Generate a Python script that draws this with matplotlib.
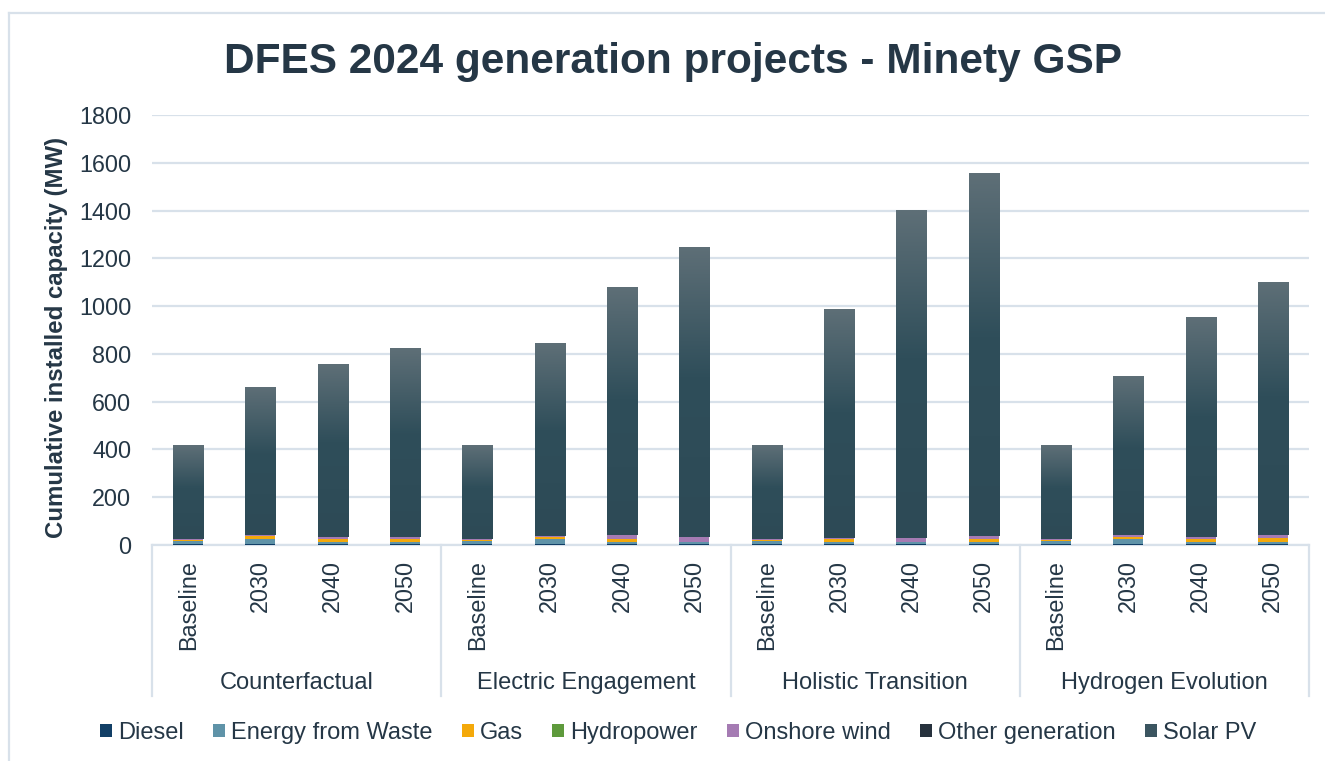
import numpy as np
import matplotlib
matplotlib.use("Agg")
import matplotlib.pyplot as plt
from matplotlib.colors import LinearSegmentedColormap
from matplotlib.patches import Patch
from matplotlib.lines import Line2D

plt.rcParams['font.family'] = ['Liberation Sans', 'DejaVu Sans']

# ---------------- data ----------------
scenarios = ["Counterfactual", "Electric Engagement", "Holistic Transition", "Hydrogen Evolution"]
years = ["Baseline", "2030", "2040", "2050"]

diesel = [3, 3, 3, 3,   3, 3, 3, 3,   3, 3, 3, 3,   3, 3, 3, 3]
energy_from_waste = [12, 22, 9, 9,   12, 22, 9, 9,   12, 10, 10, 10,   12, 22, 9, 9]
gas = [8, 11, 13, 13,   8, 8, 14, 0,   8, 14, 0, 13,   8, 8, 14, 18]
hydropower = [0, 0, 0, 0,   0, 0, 0, 0,   0, 0, 0, 0,   0, 0, 0, 0]
onshore_wind = [4, 4, 8, 8,   4, 6, 16, 21,   4, 3, 17, 12,   4, 7, 8, 13]
other_generation = [0, 0, 0, 0,   0, 0, 0, 0,   0, 0, 0, 0,   0, 0, 0, 0]
solar_pv = [391, 620, 724, 790,   391, 806, 1036, 1214,   391, 960, 1372, 1519,   391, 666, 919, 1060]

series_names = ["Diesel", "Energy from Waste", "Gas", "Hydropower",
                "Onshore wind", "Other generation", "Solar PV"]
series_values = [diesel, energy_from_waste, gas, hydropower,
                 onshore_wind, other_generation, solar_pv]
series_colors = ["#123f66", "#5f93a8", "#f4a90a", "#5e9a3c",
                 "#a57bb3", "#27323d", "#3b5560"]

yticks = [0, 200, 400, 600, 800, 1000, 1200, 1400, 1600, 1800]

# ---------------- figure ----------------
W, H = 1325, 761
fig = plt.figure(figsize=(W / 100, H / 100), dpi=100)
ax_left, ax_right, ax_top, ax_bottom = 152, 1309, 115, 545
ax = fig.add_axes([ax_left / W, 1 - ax_bottom / H,
                   (ax_right - ax_left) / W, (ax_bottom - ax_top) / H])

text_color = "#253746"
grid_color = "#d8e1ea"

n = len(scenarios) * len(years)
x = np.arange(n)
bar_w = 0.415
bottom = np.zeros(n)
solar_bars = None
for name, vals, col in zip(series_names, series_values, series_colors):
    vals = np.array(vals, dtype=float)
    bars = ax.bar(x, vals, bar_w, bottom=bottom, color=col, label=name,
                  zorder=3, linewidth=0)
    if name == "Solar PV":
        solar_bars = bars
    bottom += vals

# gradient for Solar PV bars
grad_cmap = LinearSegmentedColormap.from_list(
    "solar", [(0.0, "#2d4a56"), (0.55, "#2f4e5a"), (1.0, "#5e6f77")])
grad = np.linspace(0, 1, 256).reshape(-1, 1)
for p in solar_bars.patches:
    bx, by = p.get_x(), p.get_y()
    bw, bh = p.get_width(), p.get_height()
    im = ax.imshow(grad, cmap=grad_cmap, origin="lower", aspect="auto",
                   extent=[bx, bx + bw, by, by + bh], zorder=3.5,
                   interpolation="bilinear")
    im.set_clip_path(p)

ax.set_xlim(-0.5, n - 0.5)
ax.set_ylim(0, 1800)
ax.set_yticks(yticks)
ax.set_yticklabels([str(v) for v in yticks], fontsize=16.8, color=text_color)
ax.tick_params(axis="y", length=0, pad=15)
ax.yaxis.grid(True, color=grid_color, linewidth=1.6, zorder=0)
ax.set_axisbelow(True)
for s in ["top", "right", "left", "bottom"]:
    ax.spines[s].set_visible(False)

# category tick labels
ax.set_xticks(x)
ax.set_xticklabels(years * len(scenarios), rotation=90, fontsize=16.8,
                   color=text_color, va="top", ha="center")
ax.tick_params(axis="x", length=0, pad=11)

# multi-level axis lines
ybox = (ax_bottom - 696) / (ax_bottom - ax_top)
trans = ax.get_xaxis_transform()
ax.plot([-0.5, n - 0.5], [0, 0], transform=trans, color=grid_color,
        linewidth=1.6, clip_on=False, zorder=2)
for gx in np.arange(-0.5, n, len(years)):
    ax.plot([gx, gx], [0, ybox], transform=trans, color=grid_color,
            linewidth=1.6, clip_on=False)
ygrp = (ax_bottom - 683) / (ax_bottom - ax_top)
for i, sc in enumerate(scenarios):
    cx = i * len(years) + (len(years) - 1) / 2
    ax.text(cx, ygrp, sc, transform=trans, ha="center", va="center",
            fontsize=17, color=text_color)

# title and y label
fig.text(673 / W, 1 - 62 / H, "DFES 2024 generation projects - Minety GSP",
         ha="center", va="center", fontsize=30.5, fontweight="bold",
         color=text_color)
fig.text(57 / W, 1 - 337 / H, "Cumulative installed capacity (MW)",
         rotation=90, ha="center", va="center", fontsize=17.3,
         fontweight="bold", color=text_color)

# legend
handles = [Patch(facecolor=c, edgecolor="none") for c in series_colors]
leg = fig.legend(handles, series_names, loc="center", ncol=7,
                 bbox_to_anchor=(678 / W, 1 - 733 / H), frameon=False,
                 fontsize=17, handlelength=0.5, handleheight=0.5,
                 handletextpad=0.25, columnspacing=1.25, borderpad=0,
                 labelcolor=text_color)

# outer chart border (left and top visible)
fig.add_artist(Line2D([9 / W, 9 / W], [0, 1 - 13 / H], transform=fig.transFigure,
                      color=grid_color, linewidth=1.6))
fig.add_artist(Line2D([9 / W, 1], [1 - 13 / H, 1 - 13 / H], transform=fig.transFigure,
                      color=grid_color, linewidth=1.6))

fig.savefig("out.png", dpi=100, facecolor="white")
